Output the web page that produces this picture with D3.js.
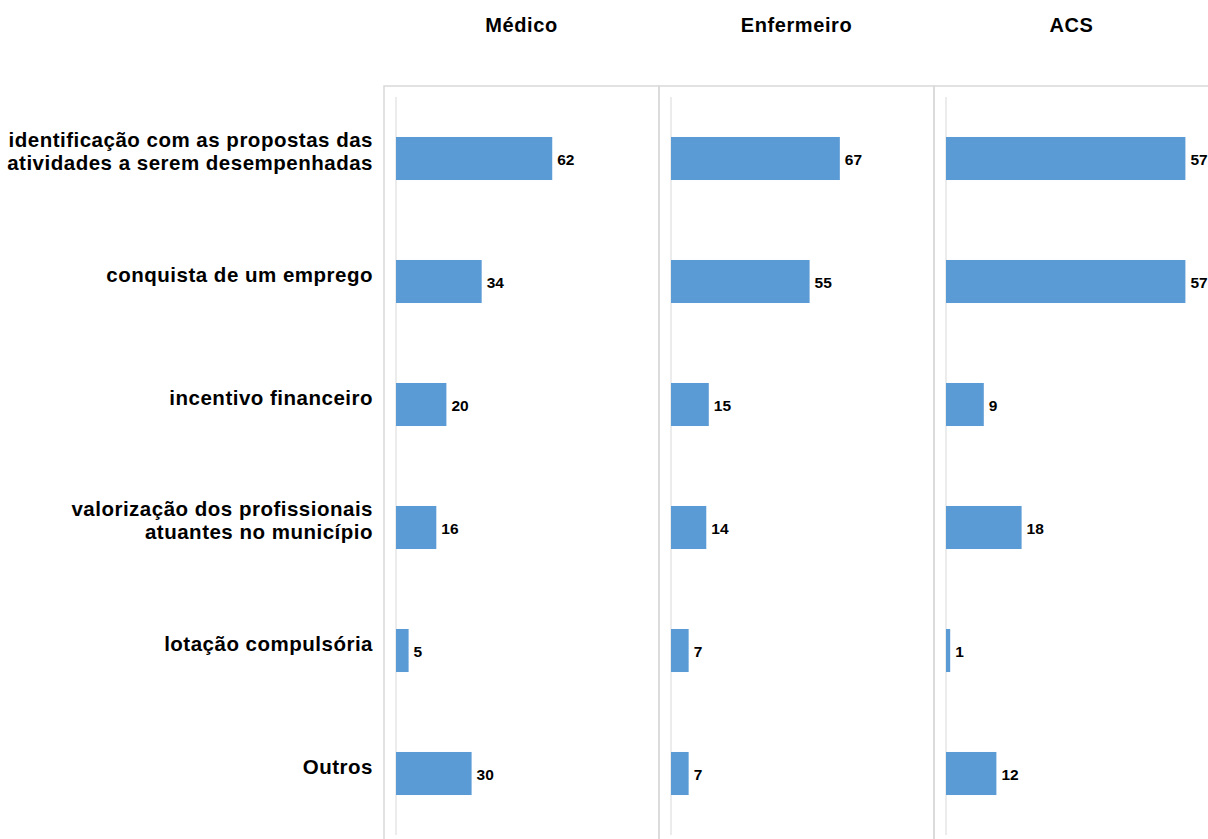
<!DOCTYPE html>
<html>
<head>
<meta charset="utf-8">
<script src="https://cdn.jsdelivr.net/npm/d3@7"></script>
<style>
  html, body { margin: 0; padding: 0; background: #fff; }
  svg { display: block; font-family: "Liberation Sans", Arial, sans-serif; }
</style>
</head>
<body>
<svg id="chart" width="1208" height="839"></svg>
<script>
// Motivos de escolha por categoria profissional
const categories = [
  ["identificação com as propostas das", "atividades a serem desempenhadas"],
  ["conquista de um emprego"],
  ["incentivo financeiro"],
  ["valorização dos profissionais", "atuantes no município"],
  ["lotação compulsória"],
  ["Outros"]
];
const groups = ["Médico", "Enfermeiro", "ACS"];
const medico = [62, 34, 20, 16, 5, 30];
const enfermeiro = [67, 55, 15, 14, 7, 7];
const acs = [57, 57, 9, 18, 1, 12];
const axisMax = [100, 100, 60];

const series = [medico, enfermeiro, acs];
const svg = d3.select("#chart");

const panelLeft = 384, panelW = 275, panelTop = 86, panelBottom = 845;
const plotTop = 97, plotBottom = 835;
const innerOffset = 12, innerW = 252;

const y = d3.scaleBand()
  .domain(d3.range(categories.length))
  .range([plotTop, plotBottom])
  .paddingInner(0.65)
  .paddingOuter(0.325);

// category labels
const lab = svg.append("g").attr("class", "cat-labels");
categories.forEach((lines, i) => {
  const cy = y(i) + y.bandwidth() / 2 - 7;
  const lh = 23;
  const t = lab.append("text")
    .attr("text-anchor", "end")
    .attr("font-size", 20.5)
    .attr("font-weight", "bold")
    .attr("letter-spacing", 0.5)
    .attr("fill", "#000");
  lines.forEach((ln, j) => {
    t.append("tspan")
      .attr("x", 373)
      .attr("y", cy + (j - (lines.length - 1) / 2) * lh)
      .attr("dy", "0.35em")
      .text(ln);
  });
});

groups.forEach((g, p) => {
  const x0 = panelLeft + p * panelW;
  const gp = svg.append("g").attr("transform", `translate(${x0},0)`);

  // panel frame
  gp.append("path")
    .attr("d", `M0,${panelBottom}V${panelTop}H${panelW}V${panelBottom}`)
    .attr("fill", "none")
    .attr("stroke", "#d9d9d9")
    .attr("stroke-width", 1.5);

  // title
  gp.append("text")
    .attr("x", panelW / 2)
    .attr("y", 32)
    .attr("text-anchor", "middle")
    .attr("font-size", 20)
    .attr("letter-spacing", 0.6)
    .attr("font-weight", "bold")
    .text(g);

  const x = d3.scaleLinear().domain([0, axisMax[p]]).range([innerOffset, innerOffset + innerW]);

  // category axis line
  gp.append("line")
    .attr("x1", x(0)).attr("x2", x(0))
    .attr("y1", plotTop).attr("y2", plotBottom)
    .attr("stroke", "#d9d9d9").attr("stroke-width", 1);

  const vals = series[p];
  gp.selectAll("rect.bar").data(vals).join("rect")
    .attr("class", "bar")
    .attr("x", x(0))
    .attr("y", (d, i) => y(i))
    .attr("width", d => x(d) - x(0))
    .attr("height", y.bandwidth())
    .attr("fill", "#5b9bd5");

  gp.selectAll("text.val").data(vals).join("text")
    .attr("class", "val")
    .attr("x", d => x(d) + 5)
    .attr("y", (d, i) => y(i) + y.bandwidth() / 2)
    .attr("dy", "0.42em")
    .attr("font-size", 15.5)
    .attr("font-weight", "bold")
    .text(d => d);
});
</script>
</body>
</html>
